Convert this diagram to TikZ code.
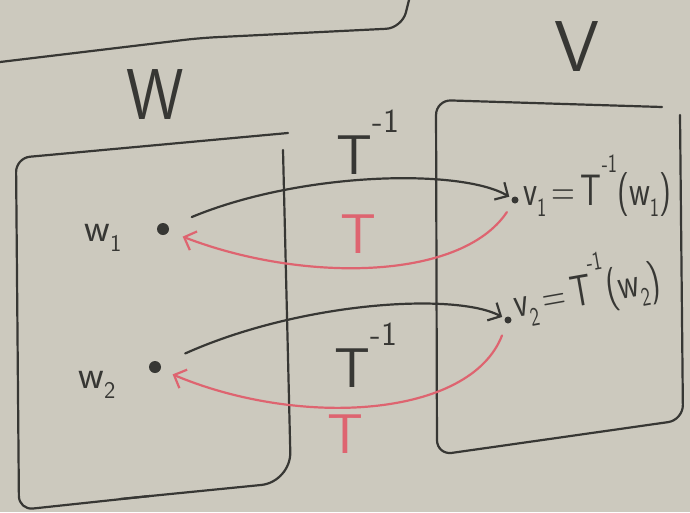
\documentclass[tikz,border=0pt]{standalone}
\usetikzlibrary{arrows.meta}
\definecolor{board}{RGB}{204,201,190}
\definecolor{ink}{RGB}{55,55,52}
\definecolor{redink}{RGB}{222,100,112}
\newcommand{\sub}[1]{\raisebox{-0.25em}{\scalebox{0.6}{#1}}}
\newcommand{\sups}[1]{\raisebox{0.75em}{\scalebox{0.6}{#1}}}
\newcommand{\narrow}[1]{\scalebox{0.74}[1]{#1}}
\begin{document}
\begin{tikzpicture}[x=1pt,y=-1pt, line width=2.2pt, line cap=round, line join=round,
  inkline/.style={draw=ink},
  redline/.style={draw=redink},
  dot/.style={circle, fill=ink, draw=none, inner sep=0pt, minimum size=12pt},
  smalldot/.style={circle, fill=ink, draw=none, inner sep=0pt, minimum size=7pt},
  tip/.style={-{Straight Barb[length=10pt,width=20pt]}},
  lbl/.style={font=\sffamily\fontsize{40}{44}\selectfont, inner sep=0pt, text=ink},
  vlbl/.style={font=\sffamily\fontsize{44}{48}\selectfont, inner sep=0pt, text=ink},
  biglbl/.style={font=\sffamily\fontsize{72}{76}\selectfont, inner sep=0pt, text=ink},
  midlbl/.style={font=\sffamily\fontsize{56}{60}\selectfont, inner sep=0pt}]
\fill[board] (0,0) rectangle (690,512);
\useasboundingbox (0,0) rectangle (690,512);
% partial box at the top
\draw[inkline, rounded corners=16pt] (0,62) -- (200,38) -- (402,28) -- (410,-4);
% W box
\draw[inkline, rounded corners=14pt] (288,133) -- (16,158) -- (19,510) -- (150,496);
\draw[inkline, rounded corners=30pt] (120,499) -- (291,482) -- (283,150);
% V box
\draw[inkline, rounded corners=15pt] (662,107) -- (436,100) -- (437,455) -- (683,420) -- (680,115);
% labels of the spaces
\node[biglbl] (Wl) at (155,95) {\scalebox{0.9}[1]{W}};
\node[biglbl] (Vl) at (577,47) {V};
% points
\node[dot] (w1) at (163,229) {};
\node[dot] (w2) at (155,367) {};
\node[smalldot] (v1) at (515,200) {};
\node[smalldot] (v2) at (508,320) {};
\node[lbl] (w1l) at (103,238) {w\sub{1}};
\node[lbl] (w2l) at (97,385) {w\sub{2}};
\node[vlbl, anchor=base west] (v1l) at (522,205) {\narrow{v\sub{1}\,=\,T\sups{-1}(w\sub{1})}};
\node[vlbl, anchor=base west, rotate=10] (v2l) at (515,318) {\narrow{v\sub{2}\,=\,T\sups{-1}(w\sub{2})}};
% map labels
\node[midlbl, text=ink] (Ti1) at (368,142) {T\sups{-1}};
\node[midlbl, text=redink] (T1) at (358,234) {T};
\node[midlbl, text=ink] (Ti2) at (366,355) {T\sups{-1}};
\node[midlbl, text=redink] (T2) at (345,434) {T};
% arrows
\draw[inkline, tip, shorten <=24pt, shorten >=2pt] (w1) .. controls (300,172) and (460,168) .. (v1);
\draw[redline, tip, shorten <=10pt, shorten >=14pt] (v1) .. controls (460,282) and (300,282) .. (w1);
\draw[inkline, tip, shorten <=26pt, shorten >=2pt] (w2) .. controls (300,302) and (455,292) .. (v2);
\draw[redline, tip, shorten <=12pt, shorten >=12pt] (v2) .. controls (470,418) and (300,428) .. (w2);
\end{tikzpicture}
\end{document}
